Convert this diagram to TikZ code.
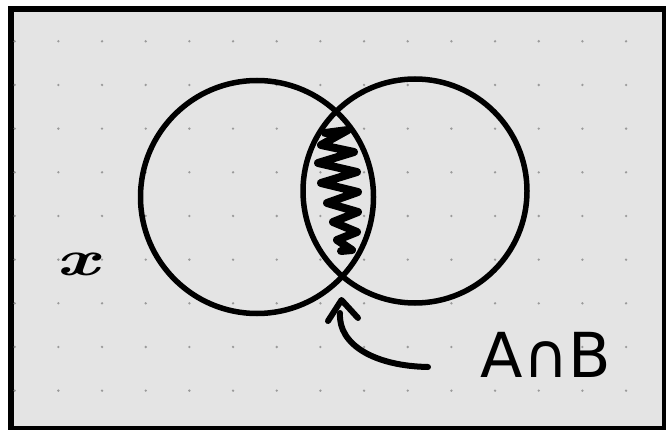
\documentclass[tikz,border=0pt]{standalone}
\usepackage{fontspec}
\newfontfamily\djv{DejaVu Sans}
\definecolor{bggray}{HTML}{E4E4E4}
\definecolor{dotgray}{HTML}{9A9A9A}
\begin{document}
\begin{tikzpicture}[x=1pt,y=-1pt,
  ink/.style={draw=black,line width=6pt,line cap=round,line join=round},
  setcircle/.style={circle,draw=black,line width=5.5pt,inner sep=0pt},
  dotmark/.style={fill=dotgray,draw=none}]
\useasboundingbox (0,0) rectangle (666,430);
\clip (0,0) rectangle (666,430);
\fill[white] (0,0) rectangle (666,430);
\draw[fill=bggray,line width=6pt] (11,9) rectangle (665,429);
\foreach \i in {0,...,14}{
  \foreach \j in {0,...,8}{
    \fill[dotmark] ({14.7+43.67*\i},{41.3+43.67*\j}) circle (1.3);
  }
}
\node[setcircle,minimum size=233pt] (A) at (257,197) {};
\node[setcircle,minimum size=224pt] (B) at (415,191) {};
\draw[ink,line width=8pt]
  (325,133) -- (348,130) -- (321,145) -- (354,152) -- (318,163) -- (357,172)
  -- (321,183) -- (358,192) -- (327,203) -- (358,212) -- (333,222) -- (357,232)
  -- (337,240) -- (352,250) -- (341,251);
\coordinate (tail) at (428,367);
\coordinate (shaftend) at (340,313);
\coordinate (tip) at (341.5,300);
\coordinate (barbL) at (328,321);
\coordinate (barbR) at (358,318);
\draw[ink] (tail) .. controls (375,366) and (338,345) .. (shaftend);
\draw[ink] (barbL) -- (tip) -- (barbR);
\node[inner sep=0pt,font=\djv\fontsize{62pt}{62pt}\selectfont] (lab) at (546,355) {A∩B};
\node[inner sep=0pt,xscale=1.5,font=\fontsize{50pt}{50pt}\selectfont\bfseries\itshape] (xl) at (78,264) {x};
\end{tikzpicture}
\end{document}
